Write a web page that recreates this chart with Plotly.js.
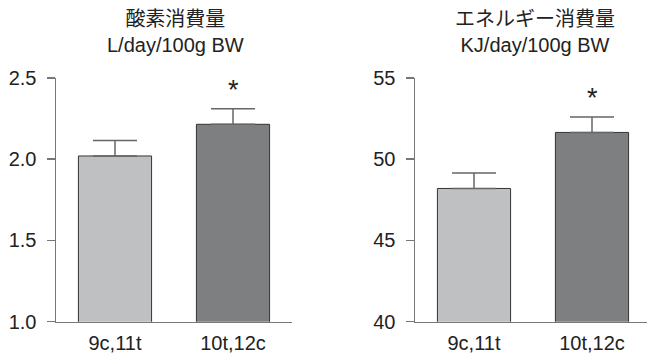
<!DOCTYPE html>
<html>
<head>
<meta charset="utf-8">
<script src="https://cdn.plot.ly/plotly-3.0.1.min.js"></script>
<style>html,body{margin:0;padding:0;background:#fff;}#chart{width:647px;height:354px;}</style>
</head>
<body>
<div id="chart"></div>
<script>
const categories = ['9c,11t', '10t,12c'];
const oxygenValues = [2.02, 2.215];
const oxygenErrors = [0.095, 0.095];
const energyValues = [48.2, 51.65];
const energyErrors = [0.95, 0.95];
const significant = [false, true];
const oxygenTitle = '酸素消費量<br>L/day/100g BW';
const energyTitle = 'エネルギー消費量<br>KJ/day/100g BW';
const oxygenTicks = [1.0, 1.5, 2.0, 2.5];
const energyTicks = [40, 45, 50, 55];

const barColors = ['#bfc0c2', '#7e7f81'];
const font = 'Liberation Sans, Arial, Noto Sans CJK JP, sans-serif';
const txt = '#222';
const axisGray = '#777';

function barTrace(vals, errs, xa, ya) {
  return {
    type: 'bar', x: categories, y: vals, xaxis: xa, yaxis: ya,
    width: 0.62,
    marker: {color: barColors, line: {color: '#333', width: 1}},
    error_y: {type: 'data', array: errs, arrayminus: errs.map(() => 0), visible: true,
              color: '#666', thickness: 1.5, width: 22},
    hoverinfo: 'none', showlegend: false
  };
}

const data = [
  barTrace(oxygenValues, oxygenErrors, 'x', 'y'),
  barTrace(energyValues, energyErrors, 'x2', 'y2')
];

const annotations = [];
categories.forEach((c, i) => {
  if (significant[i]) {
    annotations.push({x: c, y: oxygenValues[i] + oxygenErrors[i], xref: 'x', yref: 'y', text: '*',
      showarrow: false, yanchor: 'bottom', yshift: 2, font: {family: font, size: 27, color: txt}});
    annotations.push({x: c, y: energyValues[i] + energyErrors[i], xref: 'x2', yref: 'y2', text: '*',
      showarrow: false, yanchor: 'bottom', yshift: 2, font: {family: font, size: 27, color: txt}});
  }
});
annotations.push({x: 175 / 647, y: 1 - 32 / 354, xref: 'paper', yref: 'paper', text: oxygenTitle,
  showarrow: false, xanchor: 'center', yanchor: 'middle', font: {family: font, size: 20, color: txt}});
annotations.push({x: 535 / 647, y: 1 - 32 / 354, xref: 'paper', yref: 'paper', text: energyTitle,
  showarrow: false, xanchor: 'center', yanchor: 'middle', font: {family: font, size: 20, color: txt}});

const yDomain = [(354 - 321.7) / 354, (354 - 78) / 354];
function xAxis(domain, range) {
  return {domain: domain, range: range, showline: true, linecolor: axisGray, linewidth: 1.5,
    ticks: '', showgrid: false, zeroline: false, automargin: false, fixedrange: true,
    tickfont: {family: font, size: 20, color: txt}, ticklabelstandoff: 3};
}
function yAxis(domain, range, ticks, anchor, fmt) {
  return {domain: domain, range: range, anchor: anchor, showline: true, linecolor: axisGray, linewidth: 1.5,
    ticks: 'outside', ticklen: 8, tickwidth: 1.5, tickcolor: axisGray, tickvals: ticks,
    tickformat: fmt, showgrid: false, zeroline: false, automargin: false,
    tickfont: {family: font, size: 20, color: txt}, ticklabelstandoff: 6};
}

const layout = {
  width: 647, height: 354,
  margin: {l: 0, r: 0, t: 0, b: 0},
  paper_bgcolor: '#fff', plot_bgcolor: '#fff',
  showlegend: false,
  xaxis: Object.assign(xAxis([56 / 647, 292 / 647], [-0.5, 1.5]), {anchor: 'y'}),
  xaxis2: Object.assign(xAxis([415 / 647, 1], [-0.5, -0.5 + 232 / 118]), {anchor: 'y2'}),
  yaxis: yAxis(yDomain, [1.0, 2.5], oxygenTicks, 'x', '.1f'),
  yaxis2: yAxis(yDomain, [40, 55], energyTicks, 'x2', 'd'),
  annotations: annotations
};

Plotly.newPlot('chart', data, layout, {displayModeBar: false, staticPlot: true});
</script>
</body>
</html>
